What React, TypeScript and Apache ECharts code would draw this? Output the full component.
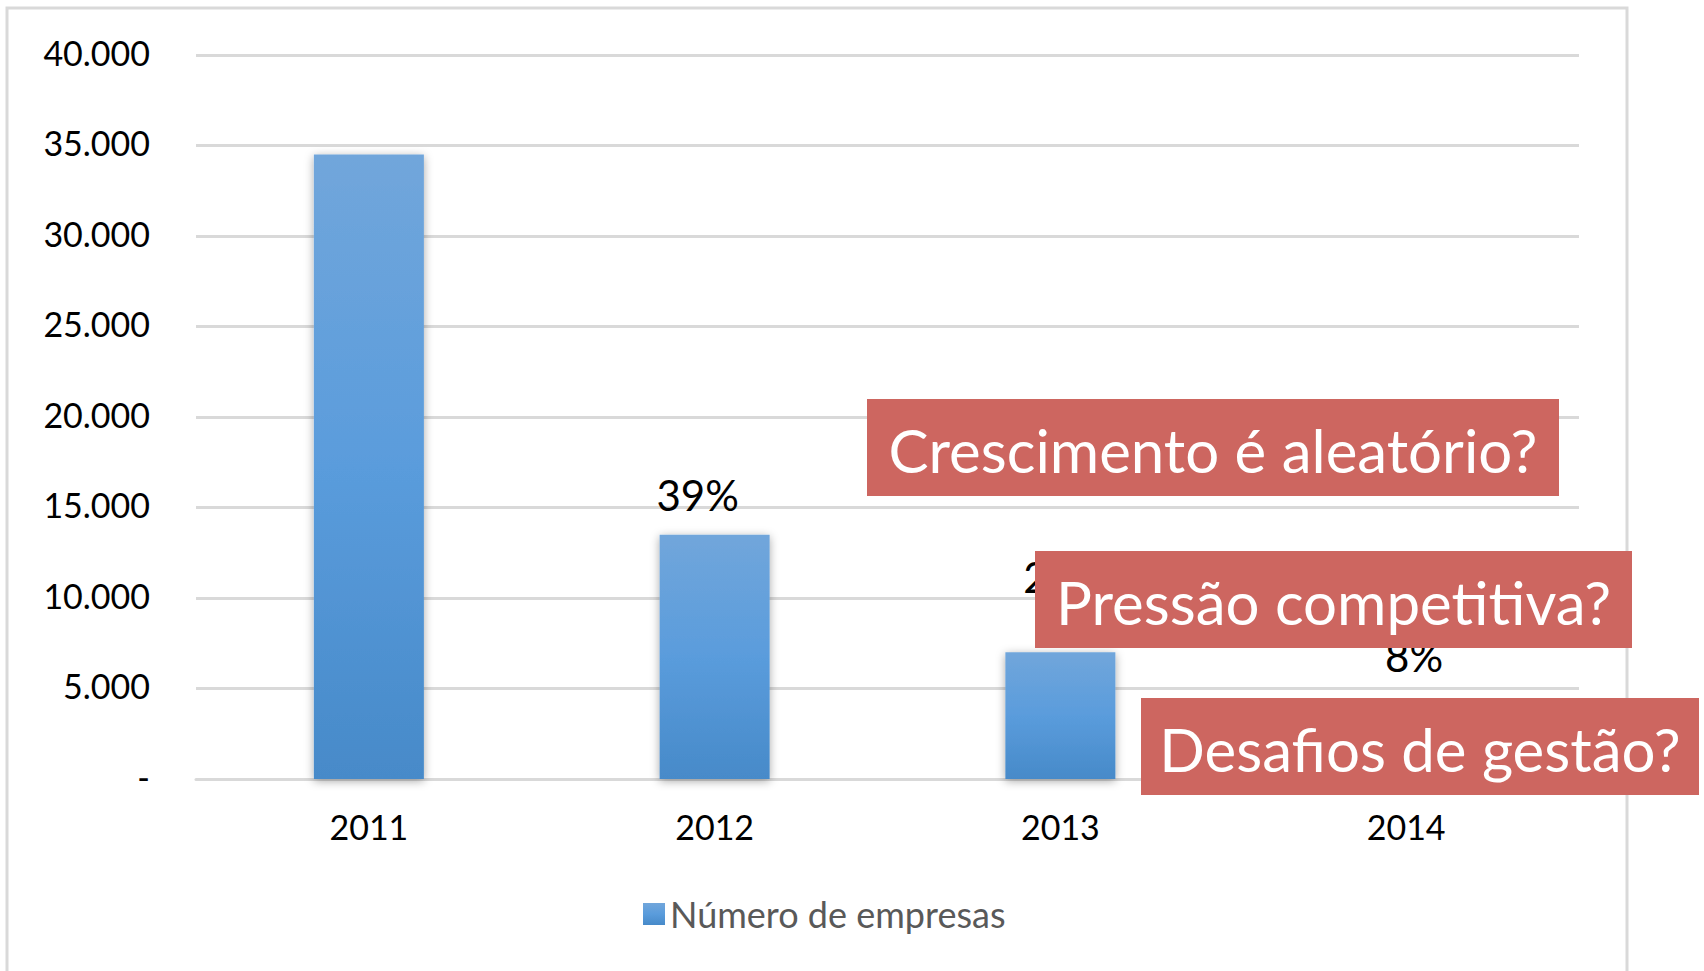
import React, { useEffect, useRef } from "react";
import * as echarts from "echarts";

const categories = ["2011", "2012", "2013", "2014"];
const empresas = [34500, 13500, 7000, 2760];
const percentLabels = ["", "39%", "20%", "8%"];
const yTicks = { min: 0, max: 40000, interval: 5000 };
const seriesName = "Número de empresas";
const questions = ["Crescimento é aleatório?", "Pressão competitiva?", "Desafios de gestão?"];

// label style placement (distance above bar, x offset)
const labelDistance = [0, 19, 54, 52];
const labelOffsetX = [0, -17, 4, 8];

const FONT = "Lato, 'Open Sans', sans-serif";

function fmt(v: number): string {
  if (v === 0) return "-";
  return String(v).replace(/\B(?=(\d{3})+(?!\d))/g, ".");
}

export default function App() {
  const ref = useRef<HTMLDivElement>(null);
  useEffect(() => {
    if (!ref.current) return;
    const chart = echarts.init(ref.current, null, { renderer: "svg" });
    const barColor = new echarts.graphic.LinearGradient(0, 0, 0, 1, [
      { offset: 0, color: "#71A6DB" },
      { offset: 0.5, color: "#5A9CDC" },
      { offset: 1, color: "#478AC9" },
    ]);
    const boxes = [
      { x: 867, y: 399, w: 692, h: 97 },
      { x: 1035, y: 551, w: 597, h: 97 },
      { x: 1141, y: 698, w: 558, h: 97 },
    ];
    chart.setOption({
      animation: false,
      backgroundColor: "#ffffff",
      textStyle: { fontFamily: FONT },
      grid: { left: 196, right: 125, top: 55, bottom: 192, containLabel: false },
      legend: {
        left: 638,
        top: 891,
        itemWidth: 22,
        itemHeight: 22,
        itemGap: 11,
        icon: "rect",
        textStyle: { fontFamily: FONT, fontSize: 36, color: "#595959" },
        data: [seriesName],
      },
      xAxis: {
        type: "category",
        data: categories,
        axisLine: { lineStyle: { color: "#D9D9D9", width: 3 } },
        axisTick: { show: false },
        axisLabel: { fontFamily: FONT, fontSize: 34, color: "#000000", margin: 30 },
      },
      yAxis: {
        type: "value",
        min: yTicks.min,
        max: yTicks.max,
        interval: yTicks.interval,
        axisLine: { show: false },
        axisTick: { show: false },
        splitLine: { lineStyle: { color: "#D9D9D9", width: 3 } },
        axisLabel: {
          fontFamily: FONT,
          fontSize: 34,
          color: "#000000",
          margin: 46,
          formatter: (v: number) => "{a|" + fmt(v) + "}",
          rich: {
            a: { fontFamily: FONT, fontSize: 34, color: "#000000", padding: [0, 0, 6, 0] },
          },
        },
      },
      series: [
        {
          name: seriesName,
          type: "bar",
          barWidth: 110,
          itemStyle: {
            color: barColor,
            shadowBlur: 10,
            shadowColor: "rgba(0,0,0,0.35)",
            shadowOffsetX: 0,
            shadowOffsetY: 2,
          },
          data: empresas.map((v, i) => ({
            value: v,
            label: {
              show: percentLabels[i] !== "",
              position: "top",
              distance: labelDistance[i],
              offset: [labelOffsetX[i], 0],
              formatter: percentLabels[i],
              fontFamily: FONT,
              fontSize: 42,
              color: "#000000",
            },
          })),
        },
      ],
      graphic: [
        {
          type: "rect",
          z: 50,
          shape: { x: 7, y: 8, width: 1620, height: 1000 },
          style: { fill: "none", stroke: "#D9D9D9", lineWidth: 3 },
          silent: true,
        },
        ...boxes.map((b, i) => ({
          type: "group",
          z: 100,
          children: [
            {
              type: "rect",
              z: 100,
              shape: { x: b.x, y: b.y, width: b.w, height: b.h },
              style: { fill: "#CD6660" },
            },
            {
              type: "text",
              z: 101,
              x: b.x + b.w / 2,
              y: b.y + b.h / 2 + 2,
              style: {
                text: questions[i],
                fill: "#ffffff",
                fontFamily: FONT,
                fontSize: 60,
                align: "center",
                verticalAlign: "middle",
              },
            },
          ],
        })),
      ],
    });
    return () => chart.dispose();
  }, []);
  return (
    <div
      ref={ref}
      style={{ position: "fixed", left: 0, top: 0, width: 1704, height: 971 }}
    />
  );
}
